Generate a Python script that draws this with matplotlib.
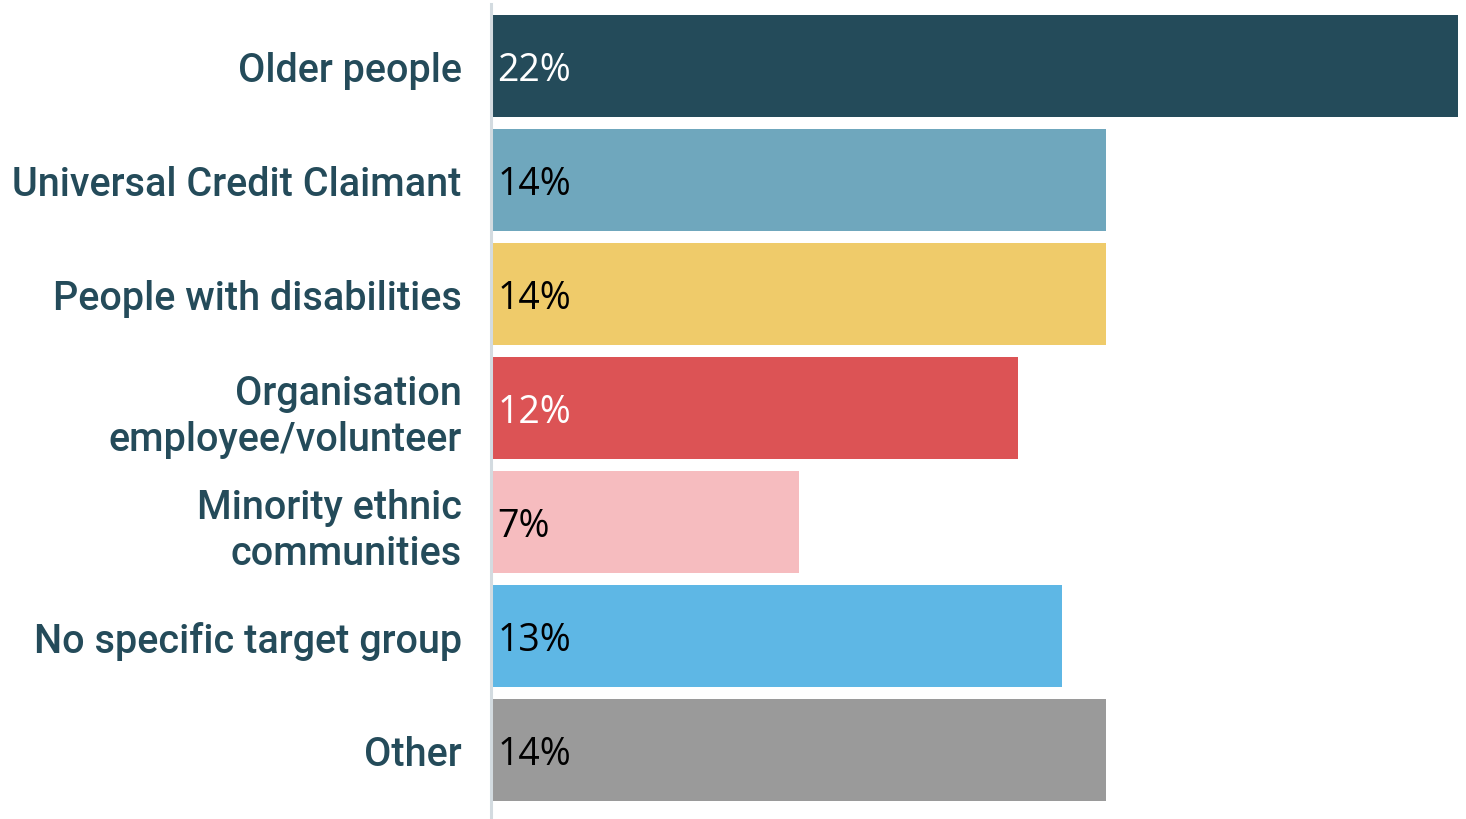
import matplotlib.pyplot as plt

# data
groups = ['Older people', 'Universal Credit Claimant', 'People with disabilities',
          'Organisation\nemployee/volunteer', 'Minority ethnic\ncommunities',
          'No specific target group', 'Other']
shares = [22, 14, 14, 12, 7, 13, 14]
bar_colors = ['#244B5A', '#6FA7BD', '#EFCB6A', '#DC5355', '#F6BCBF', '#5EB7E5', '#9A9A9A']
text_colors = ['white', 'black', 'black', 'white', 'black', 'black', 'black']

fig = plt.figure(figsize=(14.66, 8.2), dpi=100)
ax = fig.add_axes([491 / 1466, 0, (1458 - 491) / 1466, 815 / 820])

y = list(range(len(groups)))
ax.barh(y, shares, height=0.895, color=bar_colors)

# 数值标签
for i in range(len(shares)):
    ax.text(0.15, y[i] + 0.035, '{}%'.format(shares[i]), va='center', ha='left',
            fontsize=27, family='Open Sans', color=text_colors[i])

ax.set_xlim(0, 22)
ax.set_ylim(6.605, -0.544)
ax.set_yticks(y)
ax.set_yticklabels(groups, fontsize=28.5, family='Roboto', fontweight='medium',
                   color='#244B5A', linespacing=1.28)
ax.tick_params(axis='y', length=0, pad=21)
ax.set_xticks([])

for s in ['top', 'right', 'bottom']:
    ax.spines[s].set_visible(False)
ax.spines['left'].set_color('#D3DBE0')
ax.spines['left'].set_linewidth(2.2)

fig.savefig('out.png', dpi=100)
